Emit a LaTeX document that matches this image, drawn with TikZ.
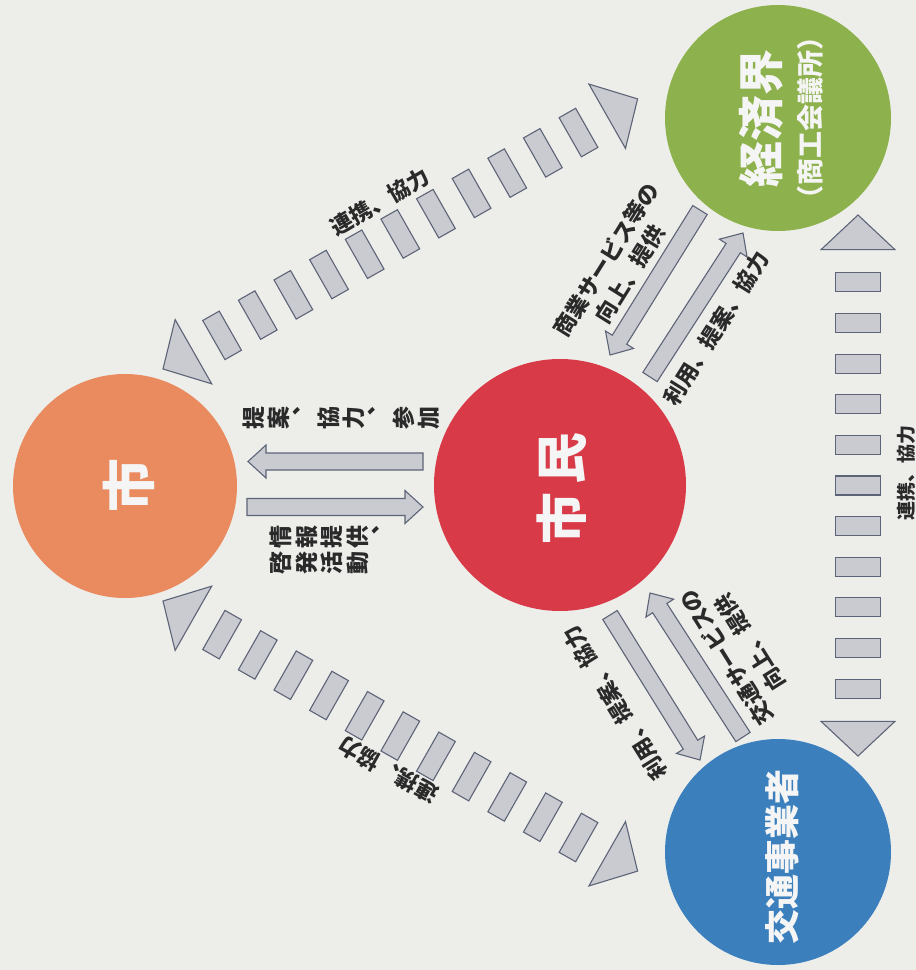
\documentclass[tikz,border=0pt]{standalone}
\usepackage{fontspec}
\newfontfamily\jp{Noto Sans CJK JP}
\usetikzlibrary{calc}
\definecolor{bg}{HTML}{EDEEEA}
\definecolor{cshi}{HTML}{E98A5F}
\definecolor{cshimin}{HTML}{D83A48}
\definecolor{ckeizai}{HTML}{8DB14C}
\definecolor{ckotsu}{HTML}{3B80BD}
\definecolor{gfill}{HTML}{C9CBD1}
\definecolor{gline}{HTML}{5D6477}
\definecolor{txt}{HTML}{2A2A2A}
% vertical (tategaki) column: one character per row, fixed baseline pitch
\newcommand\vcol[2]{\vtop{\baselineskip=#1\lineskiplimit=-1000pt\lineskip=0pt\halign{\hfil##\hfil\cr#2\crcr}}}
% dashed connector made of blocks with a triangle at each end
\newcommand\dconn[4]{%
  \foreach \i in {0,...,10}{\node[dblock, rotate=#3] (#4b\i) at ($(#1)!{(68+\i*41)/546}!(#2)$) {};}
  \coordinate (#4m1) at ($(#1)!{35/546}!(#2)$);
  \coordinate (#4m2) at ($(#2)!{35/546}!(#1)$);
  \draw[dtri] (#1) -- ($(#4m1)!37pt!90:(#1)$) -- ($(#4m1)!37pt!-90:(#1)$) -- cycle;
  \draw[dtri] (#2) -- ($(#4m2)!37pt!90:(#2)$) -- ($(#4m2)!37pt!-90:(#2)$) -- cycle;
}
% fat outlined arrow from tail #1 to tip #2
\newcommand\fatarrow[3]{%
  \coordinate (#3q) at ($(#2)!18pt!(#1)$);
  \draw[fatarr] ($(#1)!8.5pt!90:(#2)$) -- ($(#3q)!8.5pt!-90:(#1)$) -- ($(#3q)!16.5pt!-90:(#1)$) -- (#2)
    -- ($(#3q)!16.5pt!90:(#1)$) -- ($(#3q)!8.5pt!90:(#1)$) -- ($(#1)!8.5pt!-90:(#2)$) -- cycle;
}
\begin{document}
\begin{tikzpicture}[x=1pt,y=-1pt,
  circ/.style={circle, inner sep=0pt, draw=none},
  ctext/.style={text=white!96!black, rotate=90, inner sep=0pt},
  lab/.style={text=txt, inner sep=0pt, align=center, font=\jp\bfseries\fontsize{22}{28}\selectfont},
  dblock/.style={rectangle, draw=gline, fill=gfill, line width=1.1pt, minimum width=19pt, minimum height=45pt, inner sep=0pt},
  dtri/.style={draw=gline, fill=gfill, line width=1.1pt},
  fatarr/.style={draw=gline, fill=gfill, line width=1.1pt},
]
\fill[bg] (0,0) rectangle (916,970);
\useasboundingbox (0,0) rectangle (916,970);

% circles
\node[circ, fill=cshi, minimum size=224pt] (shi) at (125,486) {};
\node[circ, fill=cshimin, minimum size=252pt] (shimin) at (560,485) {};
\node[circ, fill=ckeizai, minimum size=226pt] (keizai) at (778,118) {};
\node[circ, fill=ckotsu, minimum size=226pt] (kotsu) at (778,852) {};

\node[ctext, font=\jp\bfseries\fontsize{54}{54}\selectfont] (shi-t) at (129,485) {市};
\node[ctext, font=\jp\bfseries\fontsize{52}{52}\selectfont] (shimin-t) at (562,488) {市\hspace{8pt}民};
\node[ctext, font=\jp\bfseries\fontsize{46}{46}\selectfont] (keizai-t) at (761,118) {経済界};
\node[ctext, font=\jp\bfseries\fontsize{27}{27}\selectfont] (keizai-s) at (810,118) {（商工会議所）};
\node[ctext, font=\jp\bfseries\fontsize{35}{35}\selectfont] (kotsu-t) at (782,857) {交通事業者};

% dashed connectors
\coordinate (t1a) at (163,369); \coordinate (t1b) at (637.6,98.9);
\coordinate (t2a) at (163,601); \coordinate (t2b) at (637.6,871.1);
\coordinate (t3a) at (858,215); \coordinate (t3b) at (858,756);
\dconn{t1a}{t1b}{29.6}{da}
\dconn{t2a}{t2b}{-29.6}{db}
\dconn{t3a}{t3b}{90}{dc}

% fat arrows
\coordinate (h1s) at (423,461.5); \coordinate (h1e) at (248,461.5);
\coordinate (h2s) at (247,507);   \coordinate (h2e) at (423,507);
\coordinate (u1s) at (700,210);   \coordinate (u1e) at (610,355);
\coordinate (u2s) at (650,377);   \coordinate (u2e) at (743,233);
\coordinate (w1s) at (610,615);   \coordinate (w1e) at (700,760);
\coordinate (w2s) at (743,737);   \coordinate (w2e) at (650,593);
\fatarrow{h1s}{h1e}{fa}
\fatarrow{h2s}{h2e}{fb}
\fatarrow{u1s}{u1e}{fc}
\fatarrow{u2s}{u2e}{fd}
\fatarrow{w1s}{w1e}{fe}
\fatarrow{w2s}{w2e}{ff}

% labels
\node[lab, rotate=30] (l1) at (380,202) {連携、協力};
\node[lab, rotate=151] (l2) at (388,770) {連携、協力};
\node[lab, rotate=90, font=\jp\bfseries\fontsize{19}{19}\selectfont] (l3) at (906,473) {連携、協力};
\node[lab, rotate=90, anchor=north, font=\jp\bfseries\fontsize{23}{23}\selectfont] (l4) at (243,418)
  {\vcol{25pt}{提\cr 案\cr ︑\cr 協\cr 力\cr ︑\cr 参\cr 加}};
\node[lab, rotate=90, anchor=north, font=\jp\bfseries\fontsize{23}{23}\selectfont] (l5) at (270,550)
  {\vcol{25.5pt}{啓\cr 発\cr 活\cr 動}\hspace{3pt}\vcol{25.5pt}{情\cr 報\cr 提\cr 供\cr ︑}};
\node[lab, rotate=58] (l6) at (618,267) {商業サービス等の\\向上、提供};
\node[lab, rotate=58] (l7) at (716,328) {利用、提案、協力};
\node[lab, rotate=122] (l8) at (615,703) {利用、提案、協力};
\node[lab, rotate=122] (l9) at (738,650) {交通サービスの\\向上、提供};
\end{tikzpicture}
\end{document}
